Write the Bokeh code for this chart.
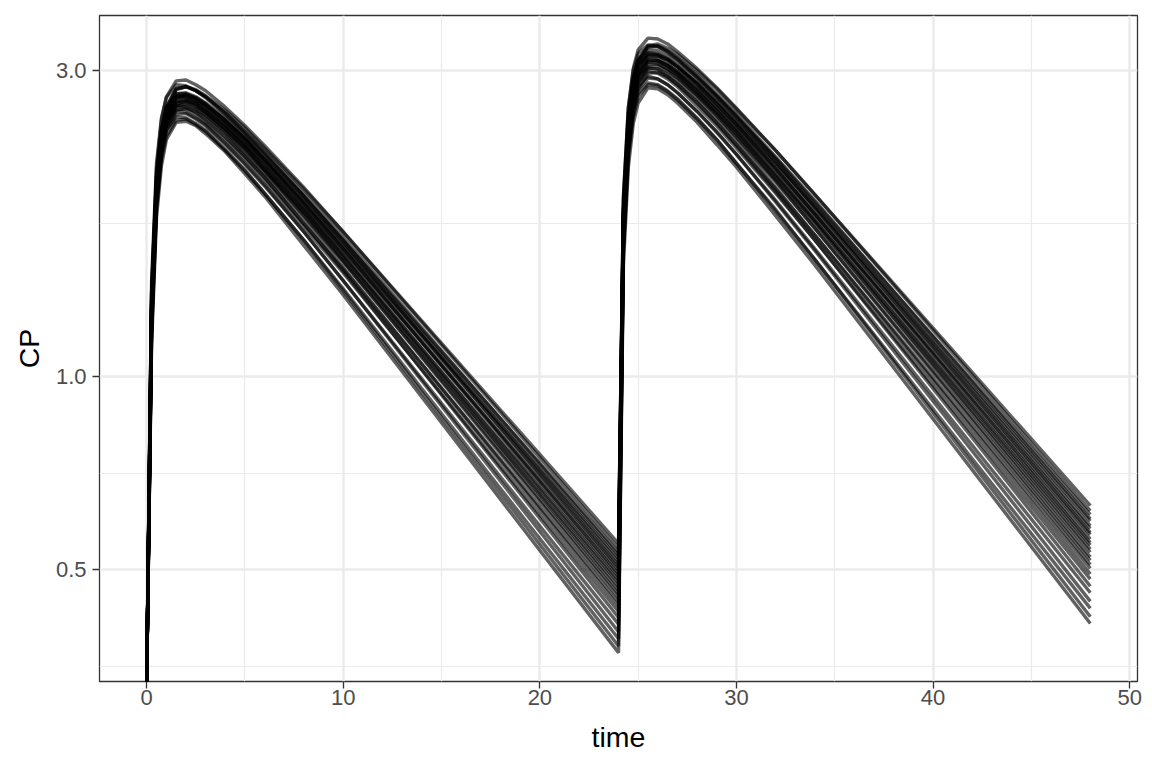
from bokeh.plotting import figure
from bokeh.models import FixedTicker, Range1d, CustomJSTickFormatter
from bokeh.embed import file_html
from bokeh.resources import INLINE

# time grid (h) shared by all subjects (doses at 0 and 24)
TIME = [0, 0.25, 0.5, 0.75, 1, 1.5, 2, 2.5, 3, 4, 5, 6, 8, 10, 24,
        24.25, 24.5, 24.75, 25, 25.5, 26, 26.5, 27, 28, 29, 30, 32, 34, 48]

# CP per subject on the TIME grid (0 at time 0 is -Inf on the log scale)
ID01 = [0, 1.24, 1.96, 2.37, 2.60, 2.80, 2.83, 2.80, 2.74, 2.60, 2.44, 2.27, 1.96, 1.68, 0.549, 1.78, 2.48, 2.88, 3.11, 3.28, 3.30, 3.25, 3.18, 3.00, 2.81, 2.61, 2.25, 1.92, 0.629]
ID02 = [0, 1.36, 2.11, 2.51, 2.73, 2.89, 2.90, 2.85, 2.79, 2.63, 2.46, 2.29, 1.97, 1.68, 0.540, 1.89, 2.62, 3.02, 3.23, 3.37, 3.36, 3.30, 3.21, 3.02, 2.82, 2.62, 2.25, 1.92, 0.617]
ID03 = [0, 1.35, 2.06, 2.43, 2.62, 2.76, 2.77, 2.73, 2.67, 2.53, 2.37, 2.21, 1.91, 1.63, 0.532, 1.87, 2.57, 2.93, 3.11, 3.23, 3.22, 3.16, 3.09, 2.92, 2.73, 2.54, 2.19, 1.87, 0.609]
ID04 = [0, 1.28, 2.01, 2.41, 2.63, 2.81, 2.83, 2.79, 2.73, 2.58, 2.41, 2.25, 1.93, 1.65, 0.526, 1.80, 2.51, 2.91, 3.12, 3.27, 3.28, 3.22, 3.14, 2.96, 2.76, 2.57, 2.20, 1.88, 0.600]
ID05 = [0, 1.30, 2.00, 2.37, 2.57, 2.72, 2.73, 2.69, 2.64, 2.50, 2.34, 2.18, 1.88, 1.60, 0.520, 1.81, 2.50, 2.86, 3.05, 3.18, 3.17, 3.12, 3.04, 2.87, 2.69, 2.50, 2.15, 1.84, 0.595]
ID06 = [0, 1.26, 1.98, 2.39, 2.63, 2.81, 2.83, 2.79, 2.73, 2.57, 2.40, 2.23, 1.91, 1.63, 0.514, 1.76, 2.47, 2.88, 3.10, 3.26, 3.27, 3.21, 3.13, 2.94, 2.74, 2.55, 2.18, 1.85, 0.585]
ID07 = [0, 1.28, 1.99, 2.37, 2.58, 2.74, 2.75, 2.71, 2.65, 2.51, 2.35, 2.18, 1.87, 1.60, 0.508, 1.78, 2.47, 2.85, 3.05, 3.19, 3.18, 3.13, 3.05, 2.87, 2.68, 2.49, 2.14, 1.82, 0.579]
ID08 = [0, 1.41, 2.15, 2.53, 2.72, 2.85, 2.84, 2.79, 2.72, 2.56, 2.39, 2.22, 1.90, 1.62, 0.503, 1.91, 2.63, 3.00, 3.19, 3.29, 3.27, 3.20, 3.12, 2.92, 2.73, 2.53, 2.16, 1.83, 0.571]
ID09 = [0, 1.21, 1.89, 2.28, 2.49, 2.66, 2.69, 2.66, 2.60, 2.46, 2.30, 2.15, 1.84, 1.57, 0.498, 1.70, 2.37, 2.75, 2.95, 3.10, 3.11, 3.06, 2.99, 2.82, 2.63, 2.45, 2.10, 1.79, 0.567]
ID10 = [0, 1.33, 2.04, 2.42, 2.62, 2.76, 2.76, 2.72, 2.66, 2.50, 2.34, 2.17, 1.86, 1.58, 0.492, 1.81, 2.52, 2.89, 3.07, 3.20, 3.18, 3.12, 3.04, 2.85, 2.66, 2.47, 2.11, 1.79, 0.558]
ID11 = [0, 1.21, 1.91, 2.31, 2.53, 2.72, 2.75, 2.72, 2.66, 2.51, 2.35, 2.18, 1.86, 1.58, 0.487, 1.68, 2.37, 2.76, 2.98, 3.15, 3.16, 3.11, 3.04, 2.86, 2.66, 2.47, 2.11, 1.79, 0.551]
ID12 = [0, 1.27, 1.97, 2.35, 2.55, 2.69, 2.70, 2.66, 2.59, 2.44, 2.28, 2.11, 1.81, 1.54, 0.481, 1.74, 2.43, 2.80, 2.99, 3.12, 3.11, 3.05, 2.97, 2.78, 2.59, 2.41, 2.06, 1.75, 0.546]
ID13 = [0, 1.35, 2.06, 2.42, 2.61, 2.74, 2.73, 2.69, 2.62, 2.47, 2.31, 2.14, 1.83, 1.55, 0.476, 1.82, 2.51, 2.87, 3.05, 3.16, 3.14, 3.07, 2.99, 2.81, 2.62, 2.43, 2.07, 1.76, 0.538]
ID14 = [0, 1.23, 1.92, 2.30, 2.51, 2.67, 2.68, 2.64, 2.58, 2.43, 2.27, 2.10, 1.80, 1.52, 0.470, 1.69, 2.37, 2.74, 2.94, 3.09, 3.08, 3.02, 2.95, 2.76, 2.57, 2.39, 2.03, 1.73, 0.532]
ID15 = [0, 1.30, 2.00, 2.38, 2.57, 2.71, 2.72, 2.68, 2.62, 2.47, 2.30, 2.13, 1.82, 1.54, 0.464, 1.76, 2.45, 2.81, 3.00, 3.12, 3.11, 3.05, 2.97, 2.79, 2.60, 2.41, 2.05, 1.74, 0.523]
ID16 = [0, 1.18, 1.86, 2.24, 2.46, 2.64, 2.66, 2.62, 2.56, 2.41, 2.25, 2.09, 1.78, 1.51, 0.458, 1.63, 2.30, 2.67, 2.88, 3.04, 3.05, 2.99, 2.92, 2.74, 2.55, 2.36, 2.01, 1.70, 0.517]
ID17 = [0, 1.26, 1.95, 2.32, 2.53, 2.68, 2.69, 2.65, 2.58, 2.43, 2.27, 2.10, 1.79, 1.51, 0.452, 1.70, 2.38, 2.75, 2.94, 3.07, 3.07, 3.01, 2.93, 2.75, 2.56, 2.37, 2.02, 1.70, 0.509]
ID18 = [0, 1.31, 2.00, 2.35, 2.53, 2.64, 2.63, 2.58, 2.51, 2.36, 2.20, 2.04, 1.73, 1.47, 0.445, 1.75, 2.43, 2.77, 2.94, 3.03, 3.01, 2.94, 2.86, 2.68, 2.49, 2.30, 1.96, 1.66, 0.502]
ID19 = [0, 1.21, 1.89, 2.27, 2.48, 2.64, 2.65, 2.61, 2.55, 2.40, 2.23, 2.07, 1.76, 1.48, 0.438, 1.64, 2.31, 2.68, 2.88, 3.02, 3.02, 2.96, 2.89, 2.71, 2.52, 2.33, 1.97, 1.66, 0.492]
ID20 = [0, 1.27, 1.95, 2.30, 2.49, 2.61, 2.61, 2.56, 2.49, 2.34, 2.18, 2.02, 1.71, 1.45, 0.430, 1.69, 2.36, 2.71, 2.88, 2.99, 2.97, 2.91, 2.83, 2.64, 2.46, 2.27, 1.93, 1.63, 0.483]
ID21 = [0, 1.16, 1.83, 2.21, 2.43, 2.60, 2.62, 2.59, 2.53, 2.38, 2.21, 2.05, 1.73, 1.46, 0.421, 1.57, 2.23, 2.60, 2.81, 2.97, 2.98, 2.93, 2.85, 2.67, 2.48, 2.29, 1.94, 1.63, 0.471]
ID22 = [0, 1.21, 1.87, 2.23, 2.42, 2.56, 2.57, 2.52, 2.46, 2.30, 2.14, 1.98, 1.68, 1.41, 0.411, 1.61, 2.27, 2.62, 2.80, 2.92, 2.91, 2.85, 2.77, 2.59, 2.41, 2.22, 1.88, 1.58, 0.460]
ID23 = [0, 1.28, 1.95, 2.30, 2.47, 2.59, 2.58, 2.53, 2.47, 2.31, 2.15, 1.99, 1.68, 1.41, 0.400, 1.67, 2.33, 2.67, 2.84, 2.94, 2.91, 2.85, 2.77, 2.59, 2.40, 2.22, 1.87, 1.57, 0.446]
ID24 = [0, 1.16, 1.82, 2.18, 2.37, 2.51, 2.52, 2.47, 2.41, 2.25, 2.09, 1.93, 1.63, 1.37, 0.390, 1.55, 2.19, 2.54, 2.73, 2.85, 2.84, 2.78, 2.70, 2.52, 2.34, 2.15, 1.82, 1.52, 0.435]
ID25 = [0, 1.23, 1.89, 2.24, 2.42, 2.54, 2.53, 2.48, 2.42, 2.26, 2.10, 1.93, 1.63, 1.36, 0.380, 1.60, 2.25, 2.59, 2.76, 2.87, 2.85, 2.79, 2.71, 2.53, 2.34, 2.15, 1.81, 1.52, 0.422]
ID26 = [0, 1.12, 1.77, 2.13, 2.34, 2.49, 2.50, 2.46, 2.39, 2.24, 2.07, 1.91, 1.60, 1.34, 0.371, 1.49, 2.12, 2.48, 2.67, 2.82, 2.81, 2.75, 2.67, 2.49, 2.30, 2.12, 1.78, 1.49, 0.412]

SUBJECTS = [ID01, ID02, ID03, ID04, ID05, ID06, ID07, ID08, ID09, ID10, ID11, ID12, ID13,
            ID14, ID15, ID16, ID17, ID18, ID19, ID20, ID21, ID22, ID23, ID24, ID25, ID26]

X_TICKS = [0, 10, 20, 30, 40, 50]
X_MINOR = [5, 15, 25, 35, 45]
Y_TICKS = [0.5, 1, 3]
Y_MINOR = [0.35355, 0.70711, 1.7321]

Y_LO, Y_HI = 0.3345, 3.655

p = figure(width=1152, height=768, y_axis_type="log",
           x_range=Range1d(-2.4, 50.4), y_range=Range1d(Y_LO, Y_HI),
           output_backend="svg", toolbar_location=None,
           min_border_left=99, min_border_right=15, min_border_top=15, min_border_bottom=87)

for cp in SUBJECTS:
    # zero concentration is -Inf on a log axis: drawn at the panel edge as ggplot does
    ys = [v if v > 0 else Y_LO for v in cp]
    p.line(TIME, ys, line_color="black", line_alpha=0.62, line_width=3.4)

p.xaxis.ticker = FixedTicker(ticks=X_TICKS, minor_ticks=X_MINOR)
p.yaxis.ticker = FixedTicker(ticks=Y_TICKS, minor_ticks=Y_MINOR)
p.yaxis.formatter = CustomJSTickFormatter(code="return tick.toFixed(1);")
for grid in (p.xgrid, p.ygrid):
    grid.grid_line_color = "#EBEBEB"
    grid.grid_line_width = 2.5
    grid.minor_grid_line_color = "#EBEBEB"
    grid.minor_grid_line_width = 1.2
for ax in (p.xaxis, p.yaxis):
    ax.axis_line_color = None
    ax.major_tick_line_color = "#333333"
    ax.major_tick_line_width = 1.3
    ax.major_tick_out = 7
    ax.major_tick_in = 0
    ax.minor_tick_line_color = None
    ax.major_label_text_color = "#4D4D4D"
    ax.major_label_text_font = "Liberation Sans"
    ax.major_label_text_font_size = "22px"
    ax.axis_label_text_font = "Liberation Sans"
    ax.axis_label_text_font_size = "28.5px"
    ax.axis_label_text_font_style = "normal"
    ax.axis_label_text_color = "black"
p.xaxis.major_label_standoff = 1
p.xaxis.axis_label_standoff = 13
p.yaxis.major_label_standoff = 6
p.yaxis.axis_label_standoff = 8
p.xaxis.axis_label = "time"
p.yaxis.axis_label = "CP"
p.outline_line_color = "#333333"
p.outline_line_width = 1.3
p.background_fill_color = "white"
p.border_fill_color = "white"

open("out.html", "w").write(file_html(p, INLINE))
